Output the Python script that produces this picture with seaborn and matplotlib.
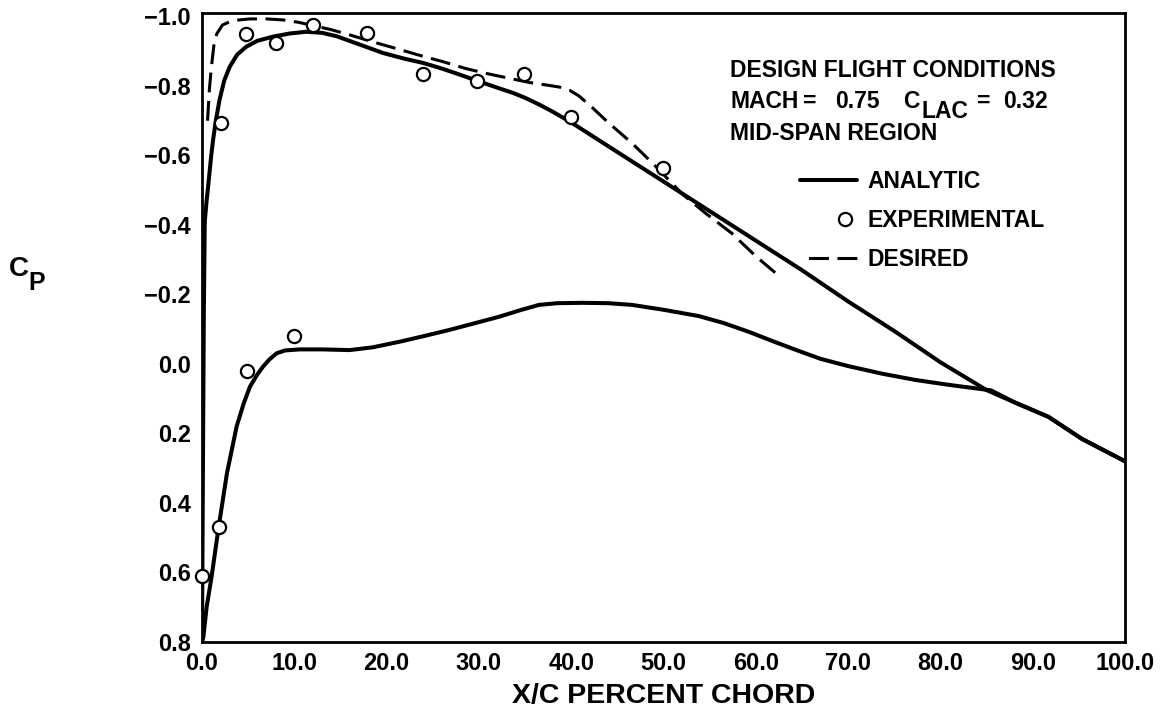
import matplotlib
matplotlib.use("Agg")
import matplotlib.pyplot as plt
from matplotlib.lines import Line2D
from matplotlib.legend_handler import HandlerLine2D
import numpy as np
import pandas as pd
import seaborn as sns

# ---- pressure distribution data (x/c in percent chord, Cp) ----
upper_x = [0.0, 0.1, 0.2, 0.3, 0.5, 0.7, 1.0, 1.2, 1.5, 1.9, 2.4, 3.0, 3.8,
           4.8, 6.0, 7.7, 9.5, 11.3, 13.0, 14.6, 17.0, 19.6, 22.0, 24.0, 26.0,
           28.0, 29.8, 32.0, 33.7, 35.0, 36.5, 38.0, 40.0, 45.0, 50.0, 55.0,
           60.0, 65.0, 70.0, 75.0, 80.0, 85.0, 88.0, 91.7, 95.3, 100.0]
upper_cp = [0.80, 0.30, -0.15, -0.41, -0.47, -0.52, -0.60, -0.645, -0.70,
            -0.76, -0.815, -0.855, -0.89, -0.913, -0.93, -0.942, -0.951,
            -0.956, -0.953, -0.943, -0.92, -0.895, -0.878, -0.866, -0.85,
            -0.832, -0.815, -0.795, -0.78, -0.766, -0.747, -0.726, -0.695,
            -0.61, -0.525, -0.44, -0.355, -0.27, -0.18, -0.095, -0.005, 0.075,
            0.11, 0.152, 0.215, 0.28]

lower_x = [0.0, 0.15, 0.5, 1.05, 1.8, 2.7, 3.75, 4.5, 5.2, 6.0, 6.6, 7.3, 8.1,
           9.0, 10.6, 13.0, 16.0, 18.5, 21.4, 24.0, 26.8, 29.5, 32.2, 34.5,
           36.5, 38.5, 41.2, 44.0, 46.6, 50.0, 53.8, 56.5, 59.2, 62.0, 64.5,
           67.0, 70.0, 73.7, 77.3, 80.9, 83.8, 85.5, 88.0, 91.7, 95.3, 100.0]
lower_cp = [0.80, 0.785, 0.70, 0.61, 0.47, 0.315, 0.18, 0.115, 0.065, 0.03,
            0.008, -0.013, -0.031, -0.039, -0.042, -0.042, -0.04, -0.048,
            -0.064, -0.08, -0.098, -0.117, -0.136, -0.155, -0.170, -0.175,
            -0.176, -0.175, -0.17, -0.156, -0.138, -0.118, -0.093, -0.064,
            -0.039, -0.015, 0.006, 0.028, 0.046, 0.06, 0.07, 0.076, 0.11,
            0.152, 0.215, 0.28]

desired_x = [0.6, 0.8, 1.0, 1.3, 1.6, 2.2, 3.0, 4.0, 5.2, 7.0, 8.8, 10.5, 11.7,
             14.0, 16.0, 18.5, 21.4, 24.0, 26.1, 28.6, 31.0, 33.3, 35.5, 37.5,
             38.7, 39.8, 40.8, 42.0, 44.0, 46.6, 49.0, 52.0, 54.5, 57.4, 60.0,
             62.8]
desired_cp = [-0.70, -0.79, -0.85, -0.92, -0.95, -0.975, -0.985, -0.99,
              -0.993, -0.993, -0.99, -0.983, -0.976, -0.962, -0.947, -0.927,
              -0.905, -0.885, -0.87, -0.85, -0.835, -0.822, -0.81, -0.802,
              -0.797, -0.788, -0.772, -0.745, -0.695, -0.635, -0.573, -0.49,
              -0.435, -0.376, -0.31, -0.247]

exp_x = [2.1, 4.8, 8.0, 12.0, 17.9, 23.9, 29.8, 34.9, 40.0, 49.9,
         0.0, 1.8, 4.9, 10.0]
exp_cp = [-0.694, -0.949, -0.925, -0.976, -0.953, -0.834, -0.814, -0.834,
          -0.712, -0.563, 0.61, 0.47, 0.02, -0.08]

x_ticks = [0, 10, 20, 30, 40, 50, 60, 70, 80, 90, 100]
x_tick_labels = ["0.0", "10.0", "20.0", "30.0", "40.0", "50.0", "60.0",
                 "70.0", "80.0", "90.0", "100.0"]
y_ticks = [-1.0, -0.8, -0.6, -0.4, -0.2, 0.0, 0.2, 0.4, 0.6, 0.8]
y_tick_labels = ["\u22121.0", "\u22120.8", "\u22120.6", "\u22120.4", "\u22120.2",
                 "0.0", "0.2", "0.4", "0.6", "0.8"]

sns.set_style("white")
plt.rcParams["font.family"] = ["Liberation Sans", "DejaVu Sans"]
plt.rcParams["font.weight"] = "bold"
plt.rcParams["axes.labelweight"] = "bold"
for key in ("text.color", "axes.labelcolor", "xtick.color", "ytick.color",
            "axes.edgecolor"):
    plt.rcParams[key] = "black"


class ShiftedMarkerHandler(HandlerLine2D):
    """Legend handler that places the marker toward the right of the key."""

    def create_artists(self, legend, orig_handle, xdescent, ydescent, width,
                       height, fontsize, trans):
        artists = super().create_artists(legend, orig_handle, xdescent,
                                         ydescent, width, height, fontsize,
                                         trans)
        for a in artists:
            if a.get_marker() not in (None, "None", "", " "):
                a.set_xdata([width * 0.78 - xdescent])
        return artists


W, H = 1163, 714
fig = plt.figure(figsize=(W / 100, H / 100), dpi=100)
ax = fig.add_axes([202 / W, 1 - 642 / H, (1125 - 202) / W, (642 - 13) / H])

upper = pd.DataFrame({"x": upper_x, "cp": upper_cp})
lower = pd.DataFrame({"x": lower_x, "cp": lower_cp})
desired = pd.DataFrame({"x": desired_x, "cp": desired_cp})
exper = pd.DataFrame({"x": exp_x, "cp": exp_cp})

solid_lw = 2.9
dash_lw = 2.2
dash_pat = (6.5, 2.8)

sns.lineplot(data=upper, x="x", y="cp", ax=ax, color="black", lw=solid_lw,
             sort=False, estimator=None, zorder=3)
sns.lineplot(data=lower, x="x", y="cp", ax=ax, color="black", lw=solid_lw,
             sort=False, estimator=None, zorder=3)
sns.lineplot(data=desired, x="x", y="cp", ax=ax, color="black", lw=dash_lw,
             sort=False, estimator=None, zorder=3)
ax.lines[-1].set_dashes(dash_pat)
for ln in ax.lines:
    ln.set_solid_joinstyle("round")
    ln.set_dash_joinstyle("round")
sns.scatterplot(data=exper, x="x", y="cp", ax=ax, marker="o", s=90,
                facecolor="white", edgecolor="black", linewidth=1.6,
                zorder=5, clip_on=False)

ax.set_xlim(0, 100)
ax.set_ylim(0.8, -1.01)
ax.set_xticks(x_ticks)
ax.set_xticklabels(x_tick_labels)
ax.set_yticks(y_ticks)
ax.set_yticklabels(y_tick_labels)
ax.tick_params(axis="both", direction="in", length=8.5, width=1.4,
               labelsize=17, colors="black")
ax.tick_params(axis="y", pad=8)
ax.tick_params(axis="x", pad=7)
for sp in ax.spines.values():
    sp.set_linewidth(2.0)
    sp.set_color("black")

ax.set_xlabel("X/C PERCENT CHORD", fontsize=20.5, labelpad=6)
ax.set_ylabel("")

# Cp axis title with subscript
fig.text(9 / W, 1 - 276 / H, "C", fontsize=20, ha="left", va="baseline")
fig.text(28 / W, 1 - 290 / H, "P", fontsize=18, ha="left", va="baseline")

# flight condition block
fs = 16.5


def put(px, py, s):
    fig.text(px / W, 1 - py / H, s, fontsize=fs, ha="left", va="baseline")


put(730, 77, "DESIGN FLIGHT CONDITIONS")
put(730, 108, "MACH")
put(803, 108, "=")
put(835, 108, "0.75")
put(903, 108, "C")
put(921, 118, "LAC")
put(977, 108, "=")
put(1003, 108, "0.32")
put(730, 140, "MID-SPAN REGION")

exp_handle = Line2D([], [], ls="none", marker="o", ms=9.5, mfc="white",
                    mec="black", mew=1.6)
handles = [
    Line2D([], [], color="black", lw=solid_lw),
    exp_handle,
    Line2D([], [], color="black", lw=dash_lw,
           linestyle=(dash_pat[0], dash_pat)),
]
labels = ["ANALYTIC", "EXPERIMENTAL", "DESIRED"]
ax.legend(handles, labels, loc="upper left",
          bbox_to_anchor=(800 / W, 1 - 170 / H), bbox_transform=fig.transFigure,
          frameon=False, fontsize=fs, handlelength=2.5, handletextpad=0.45,
          labelspacing=0.7, borderpad=0, borderaxespad=0,
          handler_map={exp_handle: ShiftedMarkerHandler(numpoints=1)})

fig.savefig("out.png", dpi=100, facecolor="white")
